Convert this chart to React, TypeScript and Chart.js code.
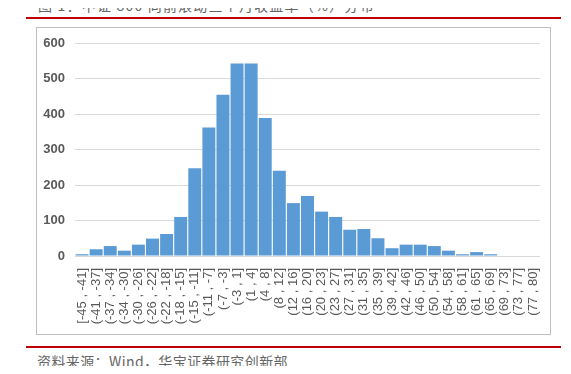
import React, { useEffect, useRef } from "react";
import { Chart, registerables } from "chart.js";

Chart.register(...registerables);

const categories = [
  "[-45 , -41]", "(-41 , -37]", "(-37 , -34]", "(-34 , -30]", "(-30 , -26]",
  "(-26 , -22]", "(-22 , -18]", "(-18 , -15]", "(-15 , -11]", "(-11 , -7]",
  "(-7 , -3]", "(-3 , 1]", "(1 , 4]", "(4 , 8]", "(8 , 12]", "(12 , 16]",
  "(16 , 20]", "(20 , 23]", "(23 , 27]", "(27 , 31]", "(31 , 35]", "(35 , 39]",
  "(39 , 42]", "(42 , 46]", "(46 , 50]", "(50 , 54]", "(54 , 58]", "(58 , 61]",
  "(61 , 65]", "(65 , 69]", "(69 , 73]", "(73 , 77]", "(77 , 80]",
];

const counts = [
  5, 19, 28, 15, 32, 49, 62, 110, 247, 362, 454, 542, 542, 389, 240, 149,
  169, 125, 110, 74, 76, 50, 22, 32, 32, 28, 15, 5, 11, 5, 0, 0, 0,
];

const yTicks = [0, 100, 200, 300, 400, 500, 600];

const titleText = "图 1：中证 800 向前滚动三个月收益率（%）分布";
const sourceText = "资料来源：Wind，华宝证券研究创新部";

export default function App() {
  const canvasRef = useRef<HTMLCanvasElement | null>(null);

  useEffect(() => {
    const canvas = canvasRef.current;
    if (!canvas) return;
    const chart = new Chart(canvas, {
      type: "bar",
      data: {
        labels: categories,
        datasets: [
          {
            data: counts,
            backgroundColor: "#5B9BD5",
            borderWidth: 0,
            categoryPercentage: 1,
            barPercentage: 0.92,
          },
        ],
      },
      options: {
        animation: false,
        responsive: false,
        maintainAspectRatio: false,
        layout: { padding: { left: 0, right: 10, top: 15, bottom: 0 } },
        plugins: {
          legend: { display: false },
          tooltip: { enabled: false },
        },
        scales: {
          x: {
            grid: { display: false, drawTicks: false },
            border: { display: false },
            ticks: {
              autoSkip: false,
              maxRotation: 90,
              minRotation: 90,
              padding: 12,
              color: "#595959",
              font: { family: "'Liberation Sans', Arial, sans-serif", size: 13 },
            },
            afterFit: (scale: any) => {
              scale.height = 78;
              scale.paddingLeft = 0;
              scale.paddingRight = 0;
            },
          },
          y: {
            min: 0,
            max: 600,
            afterBuildTicks: (scale: any) => {
              scale.ticks = yTicks.map((v) => ({ value: v }));
            },
            grid: { color: "#d9d9d9", lineWidth: 1, drawTicks: false },
            border: { display: false },
            ticks: {
              padding: 10,
              color: "#595959",
              font: { family: "'Liberation Sans', Arial, sans-serif", size: 13, weight: "bold" },
            },
            afterFit: (scale: any) => {
              scale.width = 38;
              scale.paddingTop = 0;
              scale.paddingBottom = 0;
            },
          },
        },
      },
    });
    return () => chart.destroy();
  }, []);

  return (
    <div style={{ position: "relative", width: 571, height: 374, margin: -8, overflow: "hidden", background: "#fff" }}>
      <div
        style={{
          position: "absolute",
          left: 38,
          top: -2,
          fontFamily: "'Noto Sans CJK SC', sans-serif",
          fontSize: 14,
          lineHeight: "14px",
          letterSpacing: 1.2,
          color: "#666666",
          whiteSpace: "nowrap",
        }}
      >
        {titleText}
      </div>
      <div style={{ position: "absolute", left: 26, top: 17, width: 535, height: 2, background: "#c00000" }} />
      <div
        style={{
          position: "absolute",
          left: 36,
          top: 27,
          width: 513,
          height: 306,
          border: "1px solid #bfbfbf",
        }}
      >
        <canvas ref={canvasRef} width={513} height={306} style={{ display: "block", width: 513, height: 306 }} />
      </div>
      <div style={{ position: "absolute", left: 26, top: 346, width: 535, height: 2, background: "#c00000" }} />
      <div
        style={{
          position: "absolute",
          left: 37,
          top: 354,
          fontFamily: "'Noto Sans CJK SC', sans-serif",
          fontSize: 14,
          lineHeight: "14px",
          letterSpacing: 0.4,
          color: "#666666",
          whiteSpace: "nowrap",
        }}
      >
        {sourceText}
      </div>
    </div>
  );
}
